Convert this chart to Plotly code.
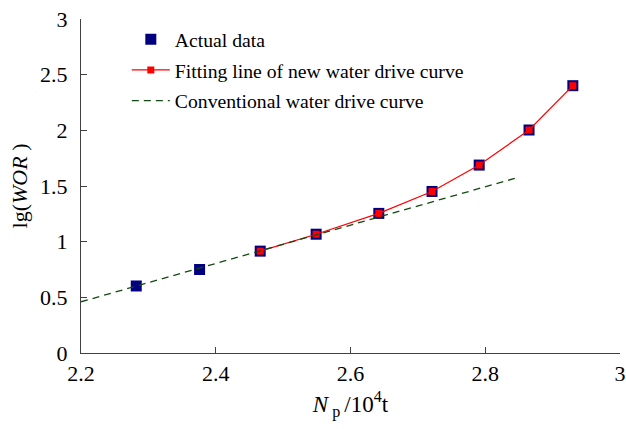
import plotly.graph_objects as go

# Data
np_actual = [2.282, 2.376, 2.466, 2.549, 2.642, 2.721, 2.791, 2.865, 2.930]
lg_wor_actual = [0.602, 0.750, 0.915, 1.067, 1.254, 1.451, 1.688, 2.003, 2.401]
np_fit = np_actual[2:]
lg_wor_fit = lg_wor_actual[2:]
np_conv = [2.2, 2.847]
lg_wor_conv = [0.46, 1.574]

x_ticks = [2.2, 2.4, 2.6, 2.8, 3.0]
x_tick_text = ["2.2", "2.4", "2.6", "2.8", "3"]
y_ticks = [0, 0.5, 1, 1.5, 2, 2.5, 3]
y_tick_text = ["0", "0.5", "1", "1.5", "2", "2.5", "3"]

FONT = "Liberation Serif"

fig = go.Figure()
fig.add_trace(go.Scatter(
    x=np_actual, y=lg_wor_actual, mode="markers", name="Actual data",
    legendgroup="a",
    marker=dict(symbol="square", size=11, color="#000080",
                line=dict(width=0)),
))
fig.add_trace(go.Scatter(
    x=np_fit, y=lg_wor_fit, mode="lines+markers",
    name="Fitting line of new water drive curve", legendgroup="b",
    line=dict(color="#ff0000", width=1.2),
    marker=dict(symbol="square", size=7, color="#ff0000"),
))
fig.add_trace(go.Scatter(
    x=np_conv, y=lg_wor_conv, mode="lines",
    name="Conventional water drive curve", legendgroup="c",
    line=dict(color="#124a12", width=1.3, dash="7px,5px"),
))

fig.update_layout(
    width=626, height=429,
    margin=dict(l=81, r=6, t=19, b=76),
    paper_bgcolor="white", plot_bgcolor="white",
    font=dict(family=FONT, size=22, color="black"),
    showlegend=True,
    legend=dict(x=0.085, y=0.997, xanchor="left", yanchor="top",
                bgcolor="rgba(0,0,0,0)", font=dict(size=19.7, family=FONT),
                traceorder="grouped", tracegroupgap=2, itemwidth=38),
    xaxis=dict(range=[2.2, 3.0], tickvals=x_ticks, ticktext=x_tick_text,
               automargin=False,
               showgrid=False, zeroline=False, showline=True,
               linecolor="#404040", linewidth=1.2, ticks="inside",
               ticklen=6, tickcolor="#404040", ticklabelstandoff=0,
               title=dict(text="<i>N</i><sub> p </sub>/10<sup>4</sup>t",
                          font=dict(size=23), standoff=11)),
    yaxis=dict(range=[0, 3.0], tickvals=y_ticks, ticktext=y_tick_text,
               automargin=False,
               showgrid=False, zeroline=False, showline=True,
               linecolor="#404040", linewidth=1.2, ticks="inside",
               ticklen=6, tickcolor="#404040", ticklabelstandoff=8,
               title=dict(text="lg(<i>WOR</i> )", font=dict(size=22),
                          standoff=6)),
)

fig.write_html("out.html")
